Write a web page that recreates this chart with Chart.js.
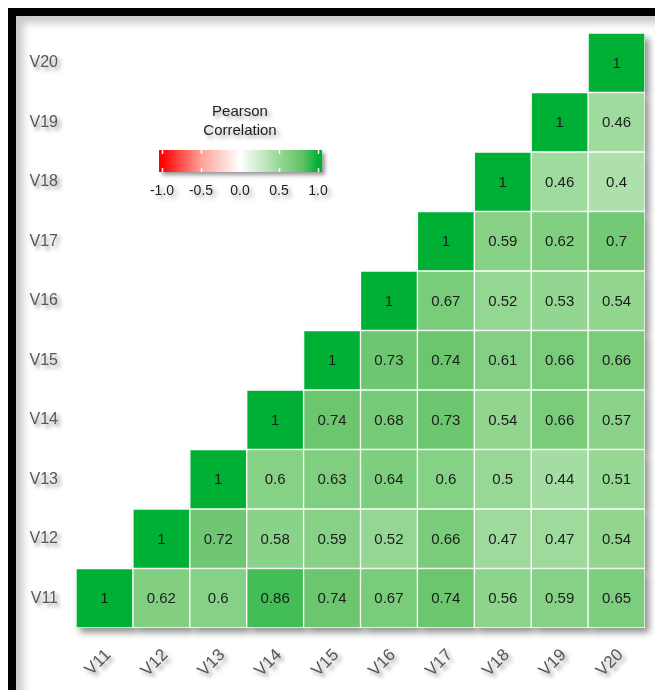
<!DOCTYPE html>
<html>
<head>
<meta charset="utf-8">
<script src="https://cdn.jsdelivr.net/npm/chart.js@4.4.0/dist/chart.umd.min.js"></script>
<style>
    html, body { margin: 0; padding: 0; background: #fff; overflow: hidden; }
    #wrap { position: relative; width: 655px; height: 690px; }
    #frame {
        position: absolute; left: 8px; top: 8px; width: 720px; height: 740px;
        border-top: 8px solid #000; border-left: 8px solid #000;
        box-shadow: inset 7px 7px 8px rgba(0, 0, 0, 0.22);
    }
    canvas { position: absolute; left: 0; top: 0; }
</style>
</head>
<body>
<div id="wrap">
    <div id="frame"></div>
    <canvas id="corrChart" width="655" height="690"></canvas>
</div>
<script>
// --- Data ---
const varNames = ['V11', 'V12', 'V13', 'V14', 'V15', 'V16', 'V17', 'V18', 'V19', 'V20'];

// each row starts at its own column (upper triangle)
const rowV11 = [1, 0.62, 0.6, 0.86, 0.74, 0.67, 0.74, 0.56, 0.59, 0.65];
const rowV12 = [1, 0.72, 0.58, 0.59, 0.52, 0.66, 0.47, 0.47, 0.54];
const rowV13 = [1, 0.6, 0.63, 0.64, 0.6, 0.5, 0.44, 0.51];
const rowV14 = [1, 0.74, 0.68, 0.73, 0.54, 0.66, 0.57];
const rowV15 = [1, 0.73, 0.74, 0.61, 0.66, 0.66];
const rowV16 = [1, 0.67, 0.52, 0.53, 0.54];
const rowV17 = [1, 0.59, 0.62, 0.7];
const rowV18 = [1, 0.46, 0.4];
const rowV19 = [1, 0.46];
const rowV20 = [1];
const corrRows = [rowV11, rowV12, rowV13, rowV14, rowV15, rowV16, rowV17, rowV18, rowV19, rowV20];

const legendTicks = [-1.0, -0.5, 0.0, 0.5, 1.0];
const legendTitle = ['Pearson', 'Correlation'];

// --- Colours ---
// colour ramp stops: [value, rgb]
const greenStops = [[0, [255, 255, 255]], [0.5, [152, 216, 150]], [0.8, [96, 194, 100]], [1, [0, 176, 53]]];
const redStops = [[0, [255, 255, 255]], [0.5, [255, 160, 150]], [1, [255, 0, 0]]];
const LABEL_COLOR = '#5d5650';

function rampColor(stops, t) {
    for (let k = 1; k < stops.length; k++) {
        const [v0, c0] = stops[k - 1];
        const [v1, c1] = stops[k];
        if (t <= v1) {
            const f = (t - v0) / (v1 - v0);
            return c0.map((ch, i) => Math.round(ch + (c1[i] - ch) * f));
        }
    }
    return stops[stops.length - 1][1];
}

function cellColor(v) {
    const t = Math.min(1, Math.abs(v));
    const c = rampColor(v >= 0 ? greenStops : redStops, t);
    return `rgb(${c[0]}, ${c[1]}, ${c[2]})`;
}

// full value grid: valueGrid[row][col], null below the diagonal
const valueGrid = corrRows.map((row, r) =>
    varNames.map((_, c) => (c >= r ? row[c - r] : null))
);

const datasets = valueGrid.map((row, r) => ({
    label: varNames[r],
    data: row.map(v => (v === null ? null : [r - 0.5, r + 0.5])),
    values: row,
    backgroundColor: ctx => {
        const v = row[ctx.dataIndex];
        return v === null ? 'rgba(0,0,0,0)' : cellColor(v);
    },
    borderColor: '#ffffff',
    borderWidth: 1,
    borderSkipped: false,
    grouped: false,
    barPercentage: 1,
    categoryPercentage: 1,
}));

// --- Plugins ---
const labelShadow = {
    id: 'labelShadow',
    beforeDraw(chart) {
        const ctx = chart.ctx;
        ctx.save();
        ctx.shadowColor = 'rgba(0, 0, 0, 0.45)';
        ctx.shadowBlur = 4;
        ctx.shadowOffsetX = 3;
        ctx.shadowOffsetY = 3;
    },
    beforeDatasetsDraw(chart) {
        chart.ctx.restore();
        // drop shadow under the triangle of cells
        const ctx = chart.ctx;
        ctx.save();
        ctx.shadowColor = 'rgba(0, 0, 0, 0.45)';
        ctx.shadowBlur = 7;
        ctx.shadowOffsetX = 4;
        ctx.shadowOffsetY = 5;
        ctx.fillStyle = '#ffffff';
        chart.data.datasets.forEach((ds, i) => {
            chart.getDatasetMeta(i).data.forEach((el, j) => {
                if (ds.values[j] === null) return;
                const { x, y, base, width } = el.getProps(['x', 'y', 'base', 'width'], true);
                ctx.fillRect(x - width / 2, Math.min(y, base), width, Math.abs(base - y));
            });
        });
        ctx.restore();
    }
};

const cellLabels = {
    id: 'cellLabels',
    afterDatasetsDraw(chart) {
        const ctx = chart.ctx;
        ctx.save();
        ctx.font = '15px "Liberation Sans", Arial, sans-serif';
        ctx.fillStyle = '#1c1c1c';
        ctx.textAlign = 'center';
        ctx.textBaseline = 'middle';
        chart.data.datasets.forEach((ds, i) => {
            chart.getDatasetMeta(i).data.forEach((el, j) => {
                const v = ds.values[j];
                if (v === null) return;
                const p = el.getCenterPoint();
                ctx.fillText(String(v), p.x, p.y + 1);
            });
        });
        ctx.restore();
    }
};

const colorLegend = {
    id: 'colorLegend',
    afterDraw(chart) {
        const ctx = chart.ctx;
        const barLeft = 159, barRight = 322, barTop = 150, barBottom = 172;
        const tickLeft = 162, tickRight = 318;
        const toX = v => tickLeft + (v - legendTicks[0]) / (legendTicks[legendTicks.length - 1] - legendTicks[0]) * (tickRight - tickLeft);

        ctx.save();
        ctx.shadowColor = 'rgba(0, 0, 0, 0.4)';
        ctx.shadowBlur = 4;
        ctx.shadowOffsetX = 3;
        ctx.shadowOffsetY = 3;

        // title
        ctx.fillStyle = '#1e1e1e';
        ctx.font = '15px "Liberation Sans", Arial, sans-serif';
        ctx.textAlign = 'center';
        ctx.textBaseline = 'middle';
        ctx.fillText(legendTitle[0], 240, 112);
        ctx.fillText(legendTitle[1], 240, 131);

        // gradient bar
        const grad = ctx.createLinearGradient(barLeft, 0, barRight, 0);
        for (let k = 0; k <= 40; k++) {
            const v = -1 + k / 20;
            const x = Math.min(1, Math.max(0, (toX(v) - barLeft) / (barRight - barLeft)));
            grad.addColorStop(x, cellColor(v));
        }
        ctx.fillStyle = grad;
        ctx.fillRect(barLeft, barTop, barRight - barLeft, barBottom - barTop);

        // tick labels
        ctx.fillStyle = '#1e1e1e';
        ctx.font = '14px "Liberation Sans", Arial, sans-serif';
        legendTicks.forEach(v => ctx.fillText(v.toFixed(1), toX(v), 191));
        ctx.restore();

        // white tick marks inside the bar
        ctx.save();
        ctx.strokeStyle = '#ffffff';
        ctx.lineWidth = 1.5;
        legendTicks.forEach(v => {
            const x = Math.round(toX(v)) + 0.5;
            ctx.beginPath();
            ctx.moveTo(x, barTop); ctx.lineTo(x, barTop + 4);
            ctx.moveTo(x, barBottom - 4); ctx.lineTo(x, barBottom);
            ctx.stroke();
        });
        ctx.restore();
    }
};

// --- Chart ---
const yFont = { family: '"Liberation Sans", Arial, sans-serif', size: 16 };
const xFont = { family: '"Liberation Sans", Arial, sans-serif', size: 17 };

new Chart(document.getElementById('corrChart').getContext('2d'), {
    type: 'bar',
    data: { labels: varNames, datasets },
    options: {
        responsive: false,
        animation: false,
        layout: { padding: { left: 16, top: 33, right: 10, bottom: 0 } },
        plugins: {
            legend: { display: false },
            tooltip: { enabled: false },
        },
        scales: {
            x: {
                type: 'category',
                offset: true,
                grid: { display: false, drawTicks: false },
                border: { display: false },
                ticks: {
                    color: LABEL_COLOR,
                    font: xFont,
                    minRotation: 45,
                    maxRotation: 45,
                    padding: 17,
                    labelOffset: 4,
                },
                afterFit(scale) { scale.height = 62; },
            },
            y: {
                type: 'linear',
                min: -0.5,
                max: 9.5,
                grid: { display: false, drawTicks: false },
                border: { display: false },
                afterBuildTicks(scale) {
                    scale.ticks = varNames.map((_, i) => ({ value: i }));
                },
                ticks: {
                    color: LABEL_COLOR,
                    font: yFont,
                    padding: 18,
                    callback: v => varNames[v],
                },
                afterFit(scale) { scale.width = 60; },
            },
        },
    },
    plugins: [labelShadow, cellLabels, colorLegend],
});
</script>
</body>
</html>
